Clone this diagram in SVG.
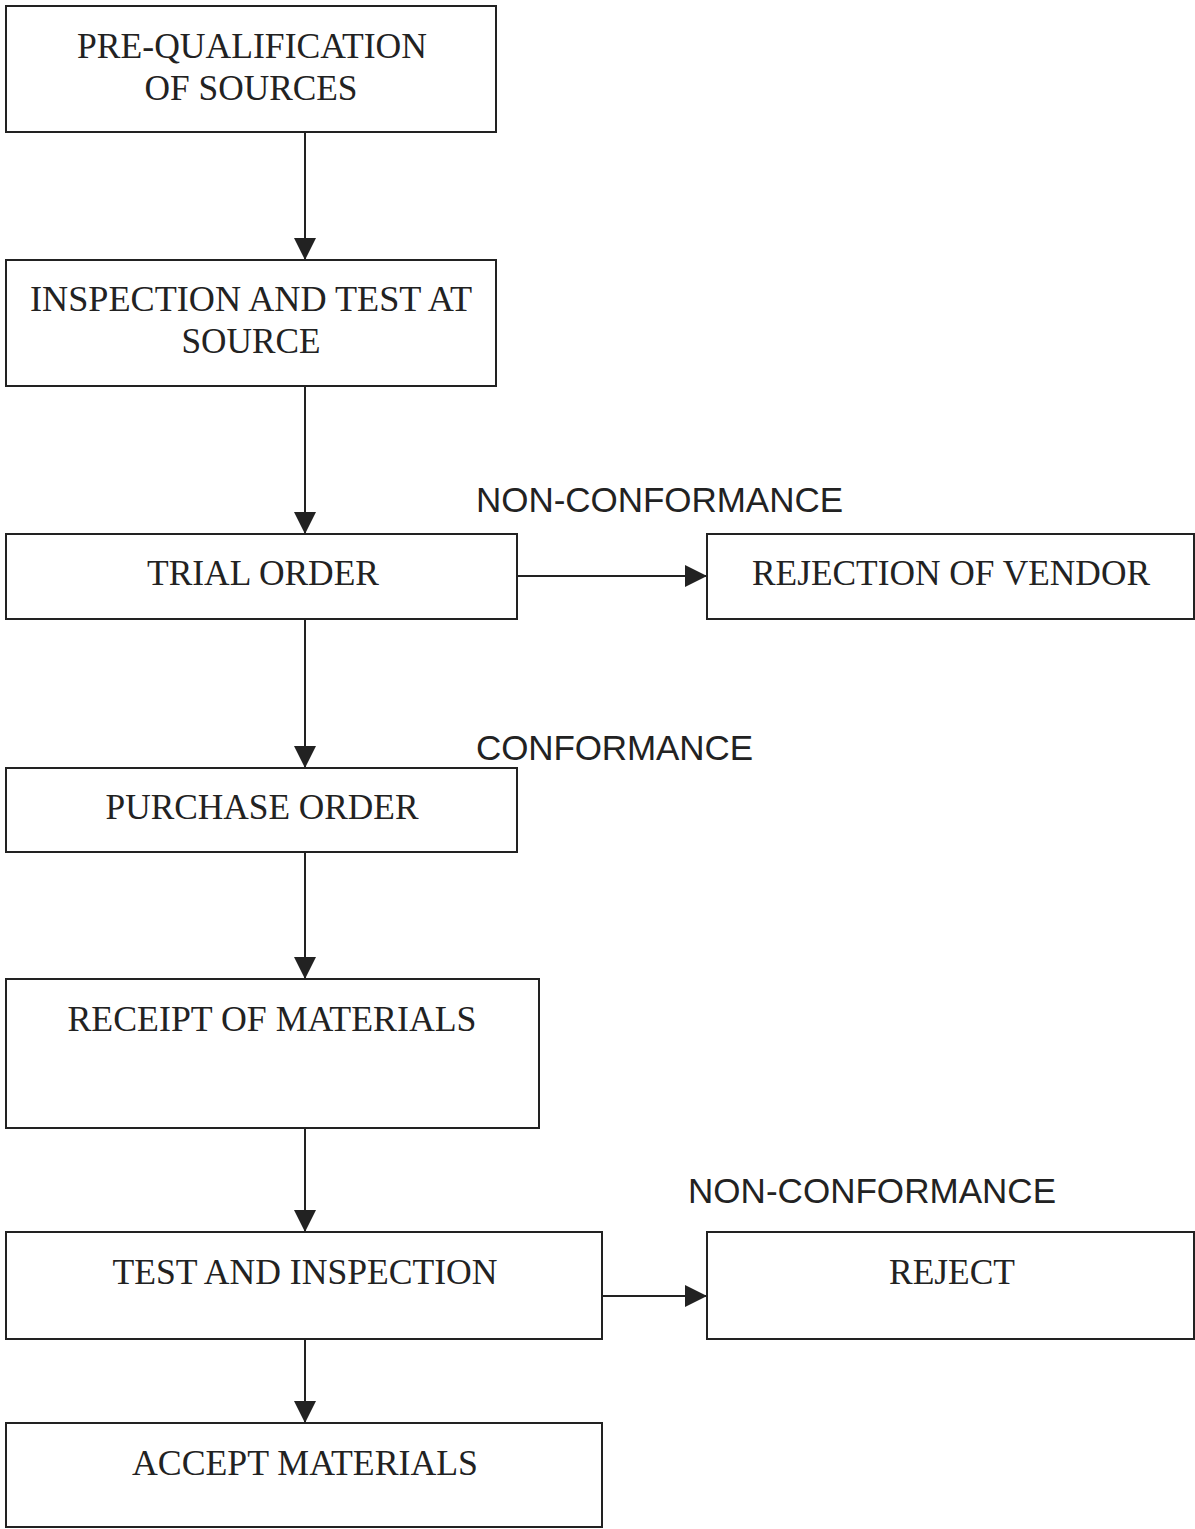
<svg xmlns="http://www.w3.org/2000/svg" width="1195" height="1529" viewBox="0 0 1195 1529">
<style>
.box{fill:none;stroke:#222;stroke-width:2}
.t{font-family:"Liberation Serif","Times New Roman",serif;font-size:36px;fill:#222;text-anchor:middle}
.l{font-family:"Liberation Sans",Arial,sans-serif;font-size:35px;fill:#222}
.c{stroke:#222;stroke-width:2;fill:none;marker-end:url(#ah)}
</style>
<defs>
<marker id="ah" viewBox="0 0 22 22" refX="22" refY="11" markerWidth="22" markerHeight="22" markerUnits="userSpaceOnUse" orient="auto">
<path d="M0,0 L22,11 L0,22 Z" fill="#222"/>
</marker>
</defs>
<rect width="1195" height="1529" fill="#fff"/>
<g id="connectors">
<line class="c" x1="305" y1="132" x2="305" y2="260"/>
<line class="c" x1="305" y1="386" x2="305" y2="534"/>
<line class="c" x1="517" y1="576" x2="707" y2="576"/>
<line class="c" x1="305" y1="619" x2="305" y2="768"/>
<line class="c" x1="305" y1="852" x2="305" y2="979"/>
<line class="c" x1="305" y1="1128" x2="305" y2="1232"/>
<line class="c" x1="602" y1="1296" x2="707" y2="1296"/>
<line class="c" x1="305" y1="1339" x2="305" y2="1423"/>
</g>
<g id="labels">
<text class="l" x="476" y="512" textLength="367">NON-CONFORMANCE</text>
<text class="l" x="476" y="760" textLength="277">CONFORMANCE</text>
<text class="l" x="688" y="1203" textLength="368">NON-CONFORMANCE</text>
</g>
<g id="n1"><rect class="box" x="6" y="6" width="490" height="126"/>
<text class="t" x="252" y="58" textLength="350" lengthAdjust="spacingAndGlyphs">PRE-QUALIFICATION</text>
<text class="t" x="251" y="100" textLength="213" lengthAdjust="spacingAndGlyphs">OF SOURCES</text></g>
<g id="n2"><rect class="box" x="6" y="260" width="490" height="126"/>
<text class="t" x="251" y="311" textLength="442" lengthAdjust="spacingAndGlyphs">INSPECTION AND TEST AT</text>
<text class="t" x="251" y="353" textLength="139" lengthAdjust="spacingAndGlyphs">SOURCE</text></g>
<g id="n3"><rect class="box" x="6" y="534" width="511" height="85"/>
<text class="t" x="263" y="585" textLength="232" lengthAdjust="spacingAndGlyphs">TRIAL ORDER</text></g>
<g id="n4"><rect class="box" x="707" y="534" width="487" height="85"/>
<text class="t" x="951" y="585" textLength="398" lengthAdjust="spacingAndGlyphs">REJECTION OF VENDOR</text></g>
<g id="n5"><rect class="box" x="6" y="768" width="511" height="84"/>
<text class="t" x="262" y="819" textLength="313" lengthAdjust="spacingAndGlyphs">PURCHASE ORDER</text></g>
<g id="n6"><rect class="box" x="6" y="979" width="533" height="149"/>
<text class="t" x="272" y="1031" textLength="409" lengthAdjust="spacingAndGlyphs">RECEIPT OF MATERIALS</text></g>
<g id="n7"><rect class="box" x="6" y="1232" width="596" height="107"/>
<text class="t" x="305" y="1284" textLength="385" lengthAdjust="spacingAndGlyphs">TEST AND INSPECTION</text></g>
<g id="n8"><rect class="box" x="707" y="1232" width="487" height="107"/>
<text class="t" x="952" y="1284" textLength="126" lengthAdjust="spacingAndGlyphs">REJECT</text></g>
<g id="n9"><rect class="box" x="6" y="1423" width="596" height="104"/>
<text class="t" x="305" y="1475" textLength="346" lengthAdjust="spacingAndGlyphs">ACCEPT MATERIALS</text></g>
</svg>
